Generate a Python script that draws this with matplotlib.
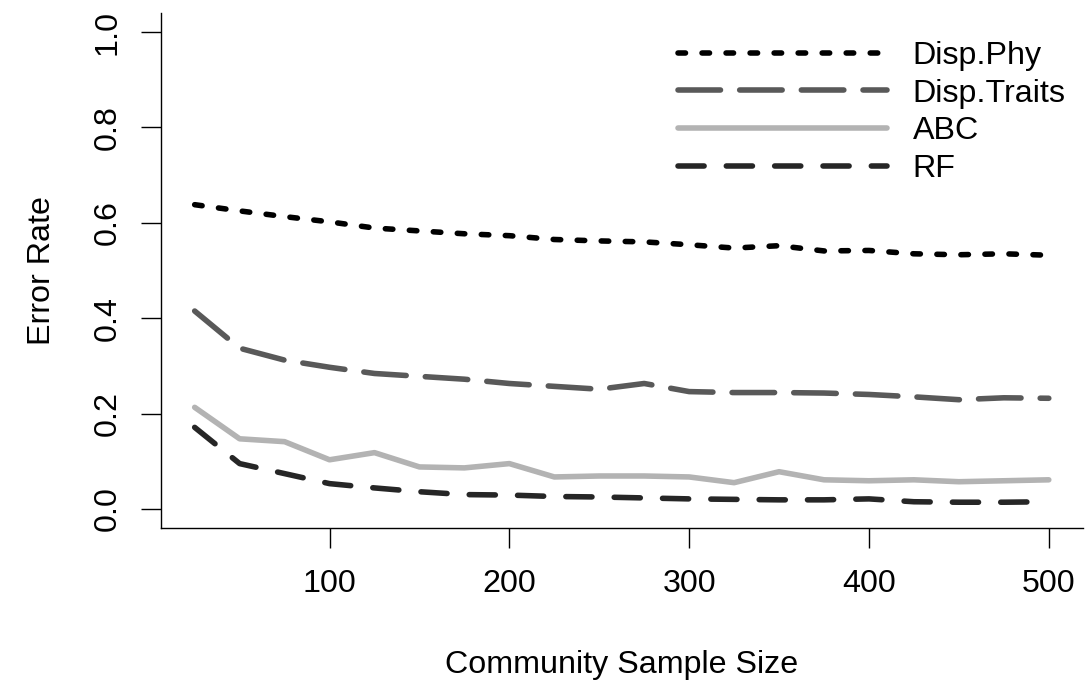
import numpy as np
import matplotlib
matplotlib.use("Agg")
import matplotlib.pyplot as plt

# values
sample_size = [25, 50, 75, 100, 125, 150, 175, 200, 225, 250,
               275, 300, 325, 350, 375, 400, 425, 450, 475, 500]
disp_phy = [0.638, 0.625, 0.613, 0.602, 0.589, 0.583, 0.577, 0.573, 0.565, 0.562,
            0.560, 0.554, 0.547, 0.552, 0.541, 0.542, 0.535, 0.533, 0.535, 0.532]
disp_traits = [0.415, 0.337, 0.312, 0.297, 0.284, 0.278, 0.272, 0.263, 0.257, 0.251,
               0.263, 0.246, 0.244, 0.244, 0.243, 0.240, 0.235, 0.229, 0.233, 0.232]
abc = [0.213, 0.147, 0.141, 0.103, 0.118, 0.088, 0.086, 0.095, 0.067, 0.069,
       0.069, 0.067, 0.055, 0.078, 0.061, 0.059, 0.061, 0.057, 0.059, 0.061]
rf = [0.171, 0.095, 0.074, 0.053, 0.044, 0.036, 0.030, 0.029, 0.026, 0.025,
      0.023, 0.021, 0.020, 0.019, 0.019, 0.021, 0.015, 0.014, 0.014, 0.015]

x_ticks = [100, 200, 300, 400, 500]
y_ticks = [0.0, 0.2, 0.4, 0.6, 0.8, 1.0]

plt.rcParams["font.family"] = ["Liberation Sans", "DejaVu Sans"]
plt.rcParams["lines.scale_dashes"] = False
fs = 23.2

fig = plt.figure(figsize=(10.86, 6.88), dpi=100)
ax = fig.add_axes([0.1478, 0.2326, 0.8494, 0.7485])

lw = 4.0
ax.plot(sample_size, disp_phy, color="black", lw=lw, dashes=(5.4, 11.9),
        dash_capstyle="round", label="Disp.Phy")
ax.plot(sample_size, disp_traits, color="#595959", lw=lw, dashes=(30.6, 13.8),
        dash_capstyle="round", label="Disp.Traits")
ax.plot(sample_size, abc, color="#b3b3b3", lw=lw, solid_capstyle="round",
        label="ABC")
ax.plot(sample_size, rf, color="#262626", lw=lw, dashes=(18.8, 16.0),
        dash_capstyle="round", label="RF")

ax.set_xlim(6, 519)
ax.set_ylim(-0.04, 1.04)
ax.set_xticks(x_ticks)
ax.set_yticks(y_ticks)
ax.set_yticklabels([f"{v:.1f}" for v in y_ticks], rotation=90, va="center")

ax.spines["top"].set_visible(False)
ax.spines["right"].set_visible(False)
for s in ["left", "bottom"]:
    ax.spines[s].set_linewidth(1.0)
ax.tick_params(direction="out", length=14.4, width=1.0, labelsize=fs)
ax.tick_params(axis="x", pad=15)
ax.tick_params(axis="y", pad=13)

ax.set_xlabel("Community Sample Size", fontsize=fs)
ax.set_ylabel("Error Rate", fontsize=fs)
ax.xaxis.set_label_coords(0.5, -0.237)
ax.yaxis.set_label_coords(-0.112, 0.5)

ax.legend(loc="upper left", bbox_to_anchor=(678 / 1086, 1 - 41 / 688),
          bbox_transform=fig.transFigure, frameon=False, fontsize=fs,
          handlelength=6.5, handletextpad=0.78, labelspacing=0.24,
          borderpad=0, borderaxespad=0)

fig.savefig("out.png", dpi=100)
